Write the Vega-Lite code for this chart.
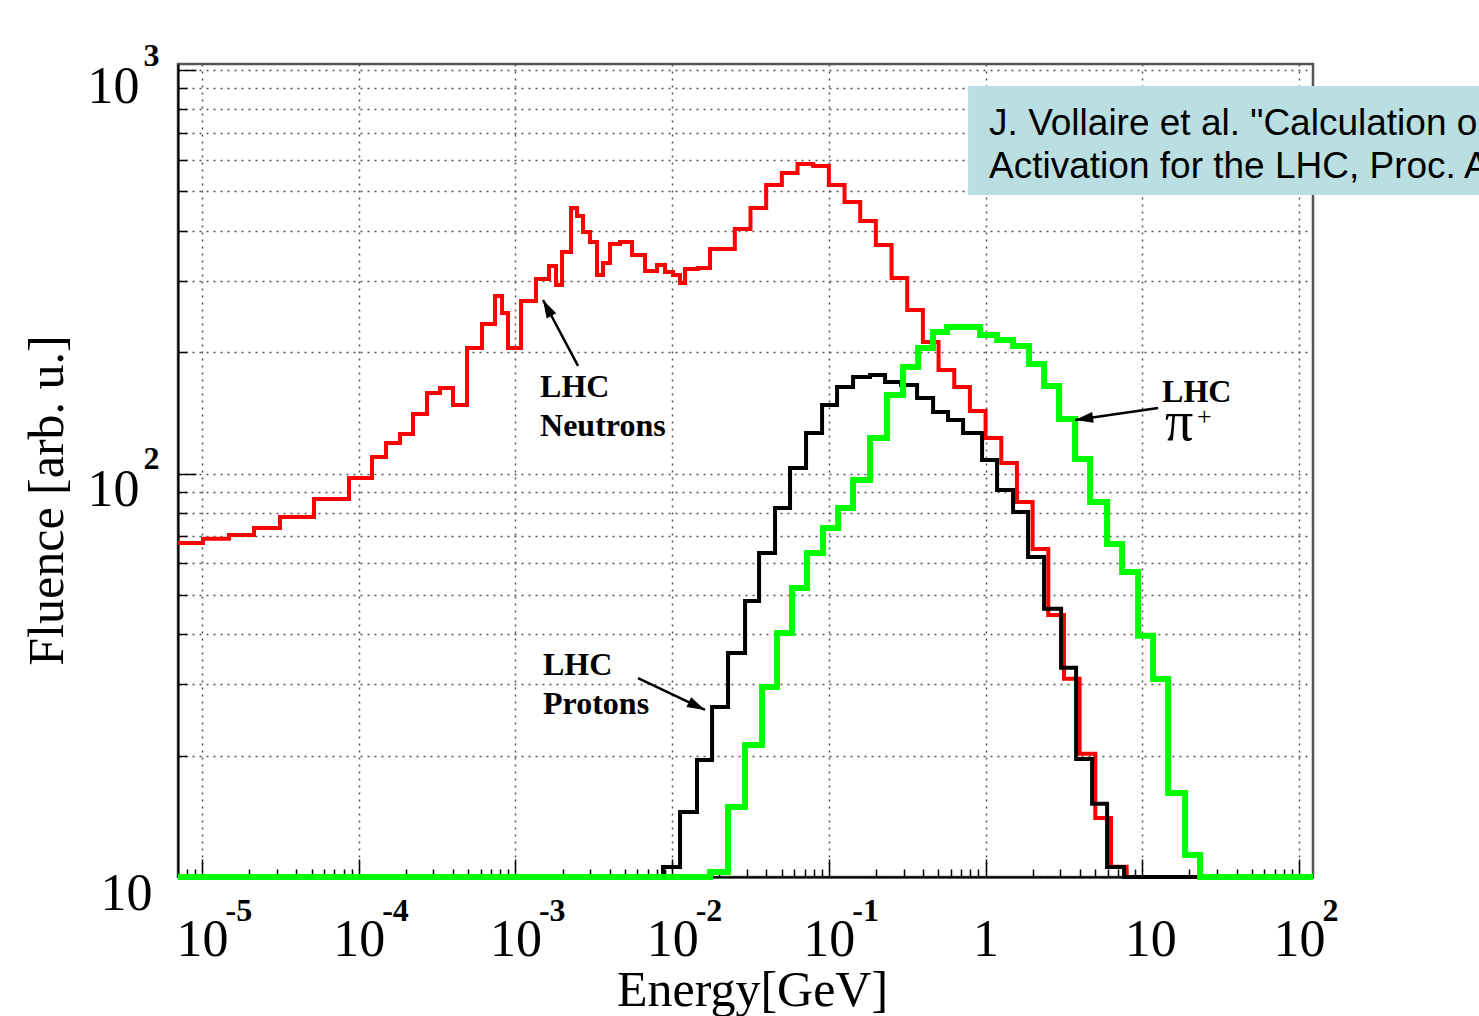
{
  "$schema": "https://vega.github.io/schema/vega-lite/v6.json",
  "width": 1135,
  "height": 813,
  "autosize": {"type": "none"},
  "padding": {"left": 178, "top": 64, "right": 166, "bottom": 139},
  "background": "white",
  "config": {"view": {"stroke": "#555", "strokeWidth": 2.5}, "font": "Liberation Serif"},
  "datasets": {
    "neutrons": [{"E":7.03e-6,"V":67.3},{"E":1.015e-5,"V":68.9},{"E":1.487e-5,"V":70.4},{"E":2.147e-5,"V":73.3},{"E":3.146e-5,"V":78.0},{"E":5.185e-5,"V":86.5},{"E":8.671e-5,"V":97.5},{"E":1.216e-4,"V":109.9},{"E":1.494e-4,"V":119.1},{"E":1.835e-4,"V":125.3},{"E":2.221e-4,"V":140.5},{"E":2.728e-4,"V":158.4},{"E":3.302e-4,"V":162.9},{"E":3.997e-4,"V":147.9},{"E":4.911e-4,"V":204.7},{"E":6.122e-4,"V":234.8},{"E":7.41e-4,"V":275.4},{"E":8.213e-4,"V":250.0},{"E":8.971e-4,"V":204.7},{"E":1.086e-3,"V":267.7},{"E":1.353e-3,"V":303.5},{"E":1.638e-3,"V":326.8},{"E":1.816e-3,"V":293.3},{"E":1.984e-3,"V":354.0},{"E":2.264e-3,"V":455.0},{"E":2.473e-3,"V":434.7},{"E":2.7e-3,"V":396.9},{"E":2.993e-3,"V":374.9},{"E":3.316e-3,"V":310.5},{"E":3.623e-3,"V":332.5},{"E":4.015e-3,"V":370.7},{"E":4.651e-3,"V":374.9},{"E":5.548e-3,"V":347.9},{"E":6.714e-3,"V":317.7},{"E":8.011e-3,"V":328.7},{"E":9.01e-3,"V":315.9},{"E":1.013e-2,"V":310.5},{"E":1.123e-2,"V":296.7},{"E":1.209e-2,"V":321.3},{"E":1.463e-2,"V":323.1},{"E":1.745e-2,"V":360.2},{"E":0.02512,"V":403.7},{"E":0.03162,"V":455.0},{"E":0.03981,"V":518.9},{"E":0.05012,"V":555.6},{"E":0.0631,"V":584.9},{"E":0.07943,"V":578.2},{"E":0.1,"V":518.9},{"E":0.1259,"V":471.0},{"E":0.1585,"V":422.7},{"E":0.1995,"V":368.6},{"E":0.2512,"V":305.2},{"E":0.3162,"V":254.3},{"E":0.3981,"V":211.8},{"E":0.5012,"V":180.5},{"E":0.631,"V":163.9},{"E":0.7943,"V":142.9},{"E":1.0,"V":122.5},{"E":1.259,"V":106.2},{"E":1.585,"V":85.0},{"E":1.995,"V":65.0},{"E":2.512,"V":44.6},{"E":3.162,"V":31.0},{"E":3.981,"V":20.2},{"E":5.012,"V":14.0},{"E":6.31,"V":10.6},{"E":7.943,"V":10},{"E":23.4,"V":10}],
    "protons": [{"E":7.03e-6,"V":10},{"E":8.748e-3,"V":10.59},{"E":1.123e-2,"V":14.5},{"E":1.441e-2,"V":19.5},{"E":1.798e-2,"V":26.39},{"E":2.274e-2,"V":35.92},{"E":2.919e-2,"V":48.32},{"E":3.586e-2,"V":63.56},{"E":4.536e-2,"V":82.15},{"E":5.654e-2,"V":103.2},{"E":7.153e-2,"V":126.0},{"E":9.05e-2,"V":147.9},{"E":0.1128,"V":163.9},{"E":0.1427,"V":173.5},{"E":0.1832,"V":175.5},{"E":0.2284,"V":168.6},{"E":0.2889,"V":165.8},{"E":0.3655,"V":153.9},{"E":0.4624,"V":142.1},{"E":0.5763,"V":135.7},{"E":0.7185,"V":126.0},{"E":0.9499,"V":108.0},{"E":1.184,"V":91.0},{"E":1.498,"V":80.3},{"E":1.867,"V":62.1},{"E":2.362,"V":46.2},{"E":3.033,"V":33.0},{"E":3.781,"V":19.6},{"E":4.782,"V":15.2},{"E":5.962,"V":10.59},{"E":7.652,"V":10},{"E":23.4,"V":10}],
    "pions": [{"E":7.03e-6,"V":10},{"E":1.745e-2,"V":10.29},{"E":2.274e-2,"V":14.92},{"E":2.919e-2,"V":21.25},{"E":3.747e-2,"V":29.58},{"E":4.671e-2,"V":40.26},{"E":5.823e-2,"V":52.04},{"E":7.259e-2,"V":63.56},{"E":9.184e-2,"V":73.3},{"E":0.1145,"V":82.15},{"E":0.1427,"V":96.4},{"E":0.1832,"V":122.5},{"E":0.2352,"V":156.6},{"E":0.2975,"V":183.7},{"E":0.3709,"V":204.7},{"E":0.4624,"V":224.3},{"E":0.5679,"V":230.8},{"E":0.9224,"V":220.5},{"E":1.184,"V":214.3},{"E":1.498,"V":207.1},{"E":1.895,"V":186.8},{"E":2.362,"V":164.8},{"E":2.945,"V":136.5},{"E":3.726,"V":108.7},{"E":4.644,"V":85.0},{"E":5.962,"V":66.9},{"E":7.431,"V":57.0},{"E":9.402,"V":39.6},{"E":11.72,"V":30.97},{"E":14.61,"V":16.16},{"E":18.76,"V":11.34},{"E":23.37,"V":10},{"E":122.8,"V":10}],
    "labels": [{"E":1.436e-3,"V":154.8,"label":"LHC"},{"E":1.436e-3,"V":123.9,"label":"Neutrons"},{"E":1.5e-3,"V":31.7,"label":"LHC"},{"E":1.5e-3,"V":25.35,"label":"Protons"},{"E":13.37,"V":150.4,"label":"LHC"}],
    "pi": [{"E":13.98,"V":121.1,"label":"π"}],
    "plus": [{"E":22.37,"V":131.9,"label":"+"}],
    "arrows": [{"E":2.509e-3,"V":184.8,"E2":1.5e-3,"V2":269.2,"angle":242.1},{"E":6.059e-3,"V":31.13,"E2":1.621e-2,"V2":25.94,"angle":25.5},{"E":12.62,"V":145.4,"E2":3.726,"V2":135.7,"angle":171.8}],
    "notebox": [{"E":0.7731,"E2":3000,"V":912.8,"V2":490.1}],
    "note": [{"E":1.0528,"V":690.3,"label":"J. Vollaire et al. \"Calculation o"},{"E":1.0528,"V":540.0,"label":"Activation for the LHC, Proc. A"}],
    "anchor": [{"E":1,"V":100}]
  },
  "layer": [
    {
      "encoding": {
        "x": {
          "field": "E", "type": "quantitative", "title": "Energy[GeV]",
          "scale": {"type": "log", "domain": [7.03e-6, 122.8], "nice": false, "zero": false},
          "axis": {
            "values": [8e-6,9e-6,1e-5,2e-5,3e-5,4e-5,5e-5,6e-5,7e-5,8e-5,9e-5,1e-4,2e-4,3e-4,4e-4,5e-4,6e-4,7e-4,8e-4,9e-4,1e-3,2e-3,3e-3,4e-3,5e-3,6e-3,7e-3,8e-3,9e-3,0.01,0.02,0.03,0.04,0.05,0.06,0.07,0.08,0.09,0.1,0.2,0.3,0.4,0.5,0.6,0.7,0.8,0.9,1,2,3,4,5,6,7,8,9,10,20,30,40,50,60,70,80,90,100],
            "titleFont": "Liberation Serif", "titleFontSize": 50, "titleFontWeight": "normal", "titleColor": "black",
            "titleX": 574, "titleY": 128, "titleBaseline": "alphabetic", "titleAlign": "center",
            "labelExpr": "abs(log(datum.value)/LN10 - round(log(datum.value)/LN10)) < 0.001 ? (datum.value == 1 ? '1' : '10') : ''",
            "labelFont": "Liberation Serif", "labelFontSize": 52, "labelColor": "black",
            "labelBaseline": "alphabetic", "labelAlign": "center", "labelPadding": 96,
            "labelOffset": {"condition": {"test": "datum.value == 10", "value": 8}, "value": 0},
            "labelOverlap": false, "labelFlush": false, "labelBound": false,
            "grid": true, "gridColor": "#555", "gridDash": [2, 5], "gridWidth": 1.5,
            "gridOpacity": {"condition": {"test": "abs(log(datum.value)/LN10 - round(log(datum.value)/LN10)) < 0.001", "value": 1}, "value": 0},
            "ticks": true, "tickColor": "black", "tickWidth": 1.5,
            "tickSize": {"condition": {"test": "abs(log(datum.value)/LN10 - round(log(datum.value)/LN10)) < 0.001", "value": -18}, "value": -8},
            "domain": true, "domainColor": "black", "domainWidth": 2
          }
        },
        "y": {
          "field": "V", "type": "quantitative", "title": "Fluence [arb. u.]",
          "scale": {"type": "log", "domain": [10, 1035], "nice": false, "zero": false},
          "axis": {
            "values": [10,20,30,40,50,60,70,80,90,100,200,300,400,500,600,700,800,900,1000],
            "titleFont": "Liberation Serif", "titleFontSize": 50, "titleFontWeight": "normal", "titleColor": "black",
            "titleX": -116, "titleY": 436, "titleAngle": -90, "titleBaseline": "alphabetic", "titleAlign": "center",
            "labelExpr": "datum.value == 10 || datum.value == 100 || datum.value == 1000 ? '10' : ''",
            "labelFont": "Liberation Serif", "labelFontSize": 52, "labelColor": "black",
            "labelAlign": "right", "labelBaseline": "alphabetic", "labelOffset": 32,
            "labelPadding": {"condition": {"test": "datum.value == 10", "value": 44}, "value": 57},
            "labelOverlap": false, "labelFlush": false, "labelBound": false,
            "grid": true, "gridColor": "#555", "gridDash": [2, 5], "gridWidth": 1.5,
            "ticks": true, "tickColor": "black", "tickWidth": 1.5,
            "tickSize": {"condition": {"test": "datum.value == 10 || datum.value == 100 || datum.value == 1000", "value": -18}, "value": -9},
            "domain": true, "domainColor": "black", "domainWidth": 2
          }
        }
      },
      "layer": [
        {"data": {"name": "neutrons"}, "mark": {"type": "line", "interpolate": "step-after", "color": "#ff0000", "strokeWidth": 4, "strokeJoin": "miter", "strokeCap": "butt"}},
        {"data": {"name": "protons"}, "mark": {"type": "line", "interpolate": "step-after", "color": "#000000", "strokeWidth": 4, "strokeJoin": "miter", "strokeCap": "butt"}},
        {"data": {"name": "pions"}, "mark": {"type": "line", "interpolate": "step-after", "color": "#00ff00", "strokeWidth": 6, "strokeJoin": "miter", "strokeCap": "butt", "clip": false}},
        {"data": {"name": "labels"}, "mark": {"type": "text", "align": "left", "baseline": "alphabetic", "font": "Liberation Serif", "fontSize": 32, "fontWeight": "bold", "color": "black"}, "encoding": {"text": {"field": "label"}}},
        {"data": {"name": "pi"}, "mark": {"type": "text", "align": "left", "baseline": "alphabetic", "font": "Liberation Serif", "fontSize": 56, "color": "black"}, "encoding": {"text": {"field": "label"}}},
        {"data": {"name": "plus"}, "mark": {"type": "text", "align": "left", "baseline": "alphabetic", "font": "Liberation Serif", "fontSize": 26, "color": "black"}, "encoding": {"text": {"field": "label"}}},
        {"data": {"name": "arrows"}, "mark": {"type": "rule", "color": "black", "strokeWidth": 2.5}, "encoding": {"x2": {"field": "E2"}, "y2": {"field": "V2"}}},
        {"data": {"name": "arrows"}, "mark": {"type": "point", "shape": "M0,0L-1,-0.3L-1,0.3Z", "filled": true, "color": "black", "opacity": 1, "size": 1296},
         "encoding": {"x": {"field": "E2", "type": "quantitative", "title": "Energy[GeV]"}, "y": {"field": "V2", "type": "quantitative", "title": "Fluence [arb. u.]"}, "angle": {"field": "angle", "type": "quantitative", "scale": null}}},
        {"data": {"name": "notebox"}, "mark": {"type": "rect", "color": "#b9dfe3", "clip": false}, "encoding": {"x2": {"field": "E2"}, "y2": {"field": "V2"}}},
        {"data": {"name": "note"}, "mark": {"type": "text", "align": "left", "baseline": "alphabetic", "font": "Liberation Sans", "fontSize": 37, "color": "black", "clip": false}, "encoding": {"text": {"field": "label"}}}
      ]
    },
    {
      "data": {"name": "anchor"},
      "mark": {"type": "point", "opacity": 0},
      "encoding": {
        "x": {
          "field": "E", "type": "quantitative",
          "scale": {"type": "log", "domain": [7.03e-6, 122.8], "nice": false, "zero": false},
          "axis": {"orient": "bottom", "values": [1e-5, 1e-4, 1e-3, 1e-2, 0.1, 100], "labelExpr": "'' + round(log(datum.value)/LN10)",
                   "labelFont": "Liberation Serif", "labelFontWeight": "bold", "labelFontSize": 32, "labelColor": "black",
                   "labelAlign": "left", "labelBaseline": "alphabetic", "labelOffset": 23, "labelPadding": 43,
                   "ticks": false, "domain": false, "grid": false, "title": null, "labelOverlap": false, "labelFlush": false, "labelBound": false}
        },
        "y": {
          "field": "V", "type": "quantitative",
          "scale": {"type": "log", "domain": [10, 1035], "nice": false, "zero": false},
          "axis": {"orient": "left", "values": [100, 1000], "labelExpr": "'' + round(log(datum.value)/LN10)",
                   "labelFont": "Liberation Serif", "labelFontWeight": "bold", "labelFontSize": 32, "labelColor": "black",
                   "labelAlign": "right", "labelBaseline": "alphabetic", "labelOffset": -5, "labelPadding": 19,
                   "ticks": false, "domain": false, "grid": false, "title": null, "labelOverlap": false, "labelFlush": false, "labelBound": false}
        }
      }
    }
  ],
  "resolve": {"scale": {"x": "independent", "y": "independent"}}
}
